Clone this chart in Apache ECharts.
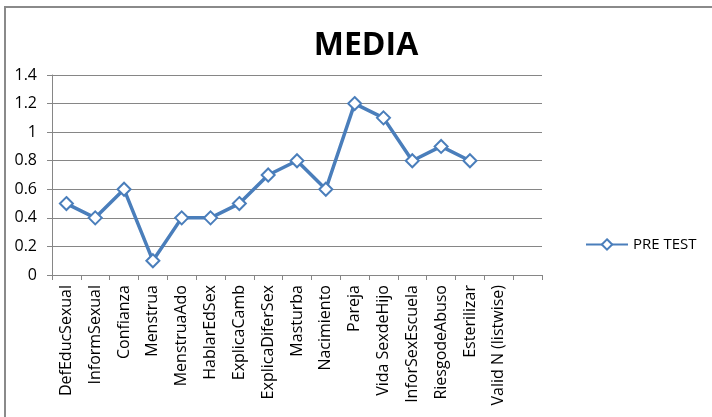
<!DOCTYPE html>
<html><head><meta charset="utf-8">
<script src="https://cdn.jsdelivr.net/npm/echarts@6/dist/echarts.min.js"></script>
<style>html,body{margin:0;padding:0;background:#fff}#c{width:712px;height:417px}</style>
</head><body><div id="c"></div>
<script>
const categories = ["DefEducSexual","InformSexual","Confianza","Menstrua","MenstruaAdo","HablarEdSex","ExplicaCamb","ExplicaDiferSex","Masturba","Nacimiento","Pareja","Vida SexdeHijo","InforSexEscuela","RiesgodeAbuso","Esterilizar","Valid N (listwise)",""];
const preTest = [0.5,0.4,0.6,0.1,0.4,0.4,0.5,0.7,0.8,0.6,1.2,1.1,0.8,0.9,0.8,null,null];
const seriesName = "PRE TEST";
const titleText = "MEDIA";

const chart = echarts.init(document.getElementById('c'));
const font = "'Open Sans', 'Noto Sans', sans-serif";
chart.setOption({
  animation:false,
  graphic:[{type:'polyline',shape:{points:[[5,417],[5,7],[712,7]]},style:{stroke:'#8a8a8a',lineWidth:2,fill:null}}],
  title:{text:titleText,left:361,top:25,textAlign:'center',textStyle:{fontFamily:font,fontSize:32,fontWeight:'bold',color:'#000'}},
  legend:{data:[{name:seriesName}],left:580,top:232,itemWidth:42,itemHeight:13,itemGap:2,
    textStyle:{fontFamily:font,fontSize:15,color:'#000'}},
  grid:{left:52,right:170,top:75,bottom:142,containLabel:false},
  xAxis:{type:'category',data:categories,boundaryGap:true,
    axisLine:{lineStyle:{color:'#868686',width:1}},
    axisTick:{show:true,length:5,alignWithLabel:false,interval:0,lineStyle:{color:'#868686'}},
    axisLabel:{rotate:90,interval:0,fontFamily:font,fontSize:16,color:'#000',margin:10}},
  yAxis:{type:'value',min:0,max:1.4,interval:0.2,
    axisLine:{show:true,lineStyle:{color:'#868686'}},
    axisTick:{show:true,length:5,lineStyle:{color:'#868686'}},
    splitLine:{lineStyle:{color:'#868686',width:1}},
    axisLabel:{fontFamily:font,fontSize:16,color:'#000',margin:15,formatter:v=>String(Math.round(v*10)/10)}},
  series:[{name:seriesName,type:'line',data:preTest,symbol:'emptyDiamond',symbolSize:13,
    lineStyle:{color:'#4a7ebb',width:3.5},itemStyle:{color:'#4a7ebb',borderWidth:2},connectNulls:false}]
});
</script></body></html>
